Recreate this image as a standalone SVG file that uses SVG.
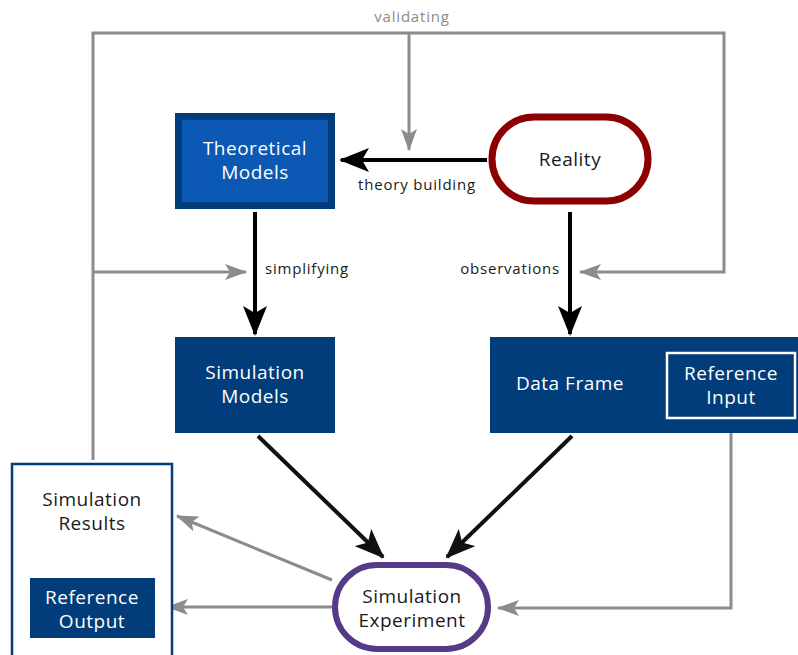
<svg xmlns="http://www.w3.org/2000/svg" width="798" height="655" viewBox="0 0 798 655">
  <defs>
    <marker id="blackHead" viewBox="0 0 30 24" refX="28" refY="12" markerWidth="30" markerHeight="24" markerUnits="userSpaceOnUse" orient="auto">
      <path d="M0,0 L30,12 L0,24 L7,12 Z" fill="#000"/>
    </marker>
    <marker id="greyHead" viewBox="0 0 22 16" refX="21" refY="8" markerWidth="22" markerHeight="16" markerUnits="userSpaceOnUse" orient="auto">
      <path d="M0,0 L22,8 L0,16 L5,8 Z" fill="#8c8c8c"/>
    </marker>
    <marker id="diagHead" viewBox="0 0 30 24" refX="28" refY="12" markerWidth="30" markerHeight="24" markerUnits="userSpaceOnUse" orient="auto">
      <path d="M0,0 L30,12 L0,24 L7,12 Z" fill="#111"/>
    </marker>
  </defs>
  <style>
    text { font-family: "Open Sans", "Noto Sans", "Liberation Sans", sans-serif; }
    .node { font-size: 19px; letter-spacing: 0.5px; text-anchor: middle; }
    .white { fill: #fff; }
    .dark { fill: #1a1a1a; }
    .label { font-size: 15px; letter-spacing: 0.8px; fill: #1a1a1a; }
    .glabel { font-size: 15px; letter-spacing: 0.8px; fill: #8c8c8c; text-anchor: middle; }
    .blue { fill: #003d7a; }
    .black { stroke: #000; stroke-width: 4; fill: none; }
    .diag { stroke: #111; stroke-width: 4; fill: none; }
    .grey { stroke: #8c8c8c; stroke-width: 3; fill: none; }
  </style>
  <rect width="798" height="655" fill="#fff"/>

  <g id="connectors">
    <!-- validating feedback loop -->
    <path class="grey" d="M93,460 V33 H724 V272 H580" marker-end="url(#greyHead)"/>
    <path class="grey" d="M409,33 V150" marker-end="url(#greyHead)"/>
    <path class="grey" d="M93,272 H246" marker-end="url(#greyHead)"/>
    <!-- reference input into the experiment -->
    <path class="grey" d="M731,423 V608 H498" marker-end="url(#greyHead)"/>
    <!-- experiment outputs -->
    <path class="grey" d="M332,580 L177,516" marker-end="url(#greyHead)"/>
    <path class="grey" d="M332,607 H167" marker-end="url(#greyHead)"/>
    <!-- main flow -->
    <path class="black" d="M487,160 H341" marker-end="url(#blackHead)"/>
    <path class="black" d="M255,212 V334" marker-end="url(#blackHead)"/>
    <path class="black" d="M570,212 V334" marker-end="url(#blackHead)"/>
    <path class="diag" d="M258,436 L383,557" marker-end="url(#diagHead)"/>
    <path class="diag" d="M572,436 L447,557" marker-end="url(#diagHead)"/>
    <text class="glabel" x="412" y="22">validating</text>
    <text class="label" x="417" y="190" text-anchor="middle">theory building</text>
    <text class="label" x="265" y="274">simplifying</text>
    <text class="label" x="560" y="274" text-anchor="end">observations</text>
  </g>

  <g id="theoretical-models">
    <rect x="175" y="113" width="160" height="96" class="blue"/>
    <rect x="182" y="120" width="146" height="82" fill="#0b58b5"/>
    <text class="node white" x="255" y="155">Theoretical</text>
    <text class="node white" x="255" y="179">Models</text>
  </g>

  <g id="reality">
    <rect x="492" y="117" width="156" height="84" rx="42" fill="#fff" stroke="#8b0000" stroke-width="7"/>
    <text class="node dark" x="570" y="166">Reality</text>
  </g>

  <g id="simulation-models">
    <rect x="175" y="337" width="160" height="96" class="blue"/>
    <text class="node white" x="255" y="379">Simulation</text>
    <text class="node white" x="255" y="403">Models</text>
  </g>

  <g id="data-frame">
    <rect x="490" y="337" width="310" height="96" class="blue"/>
    <text class="node white" x="570" y="390">Data Frame</text>
    <g id="reference-input">
      <rect x="667" y="353" width="128" height="65" fill="none" stroke="#fff" stroke-width="2.5"/>
      <text class="node white" x="731" y="380">Reference</text>
      <text class="node white" x="731" y="404">Input</text>
    </g>
  </g>

  <g id="simulation-results">
    <rect x="12" y="464" width="160" height="200" fill="#fff" stroke="#003d7a" stroke-width="2.5"/>
    <text class="node dark" x="92" y="506">Simulation</text>
    <text class="node dark" x="92" y="530">Results</text>
    <g id="reference-output">
      <rect x="30" y="578" width="125" height="60" class="blue"/>
      <text class="node white" x="92" y="604">Reference</text>
      <text class="node white" x="92" y="628">Output</text>
    </g>
  </g>

  <g id="simulation-experiment">
    <rect x="335" y="565" width="153" height="84" rx="42" fill="#fff" stroke="#553a87" stroke-width="6"/>
    <text class="node dark" x="412" y="603">Simulation</text>
    <text class="node dark" x="412" y="627">Experiment</text>
  </g>
</svg>
